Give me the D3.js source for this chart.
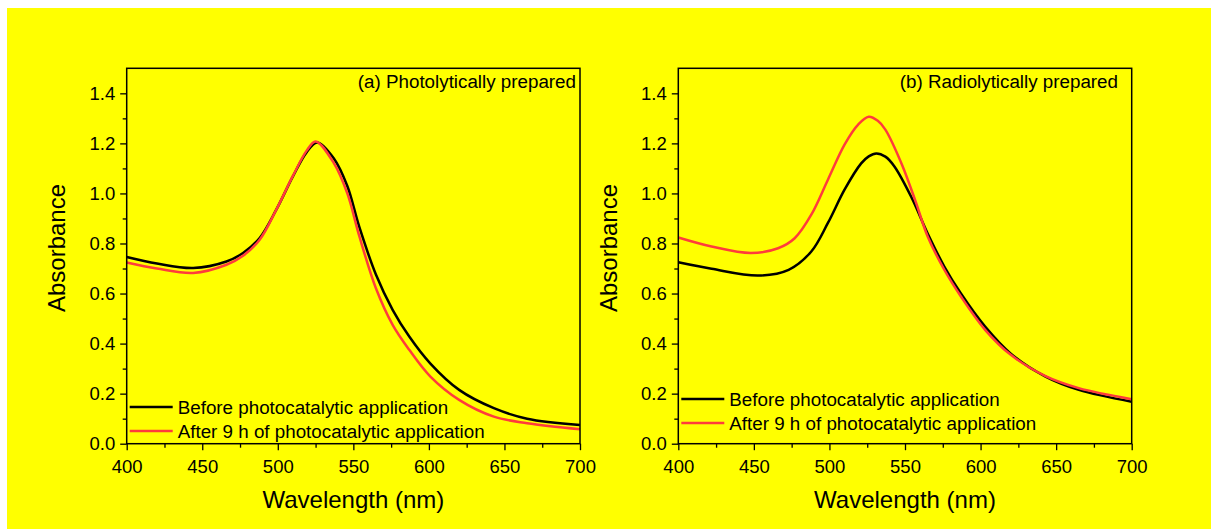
<!DOCTYPE html>
<html>
<head>
<meta charset="utf-8">
<script src="https://cdn.jsdelivr.net/npm/d3@7"></script>
<style>
  body { margin: 0; background: #ffffff; }
  svg { display: block; }
</style>
</head>
<body>
<div id="chart"></div>
<script>
// ---- data ----
let wl_a_before = [400, 420, 444, 466, 477, 488, 499, 510, 519, 526, 537, 546, 554, 565, 576, 587, 601, 620, 643, 665, 700];
let abs_a_before = [0.746, 0.72, 0.702, 0.728, 0.762, 0.822, 0.935, 1.068, 1.164, 1.204, 1.141, 1.03, 0.865, 0.675, 0.535, 0.428, 0.32, 0.215, 0.142, 0.10, 0.075];
let wl_a_after = [400, 420, 444, 466, 477, 488, 499, 510, 519, 525, 537, 546, 554, 565, 576, 587, 601, 620, 643, 665, 700];
let abs_a_after = [0.724, 0.70, 0.682, 0.715, 0.751, 0.815, 0.935, 1.07, 1.17, 1.208, 1.122, 1.0, 0.828, 0.62, 0.475, 0.375, 0.268, 0.175, 0.108, 0.082, 0.058];

let wl_b_before = [400, 422, 453, 473, 488, 499, 510, 521, 526, 531, 537, 543, 554, 565, 576, 587, 603, 620, 643, 665, 700];
let abs_b_before = [0.725, 0.699, 0.672, 0.695, 0.768, 0.882, 1.015, 1.12, 1.148, 1.16, 1.147, 1.108, 0.988, 0.84, 0.708, 0.60, 0.468, 0.36, 0.268, 0.215, 0.168];
let wl_b_after = [400, 422, 448, 466, 477, 488, 499, 510, 519, 526, 532, 537, 548, 557, 565, 576, 587, 603, 620, 643, 665, 700];
let abs_b_after = [0.824, 0.788, 0.762, 0.781, 0.821, 0.915, 1.055, 1.195, 1.275, 1.306, 1.29, 1.255, 1.115, 0.968, 0.828, 0.695, 0.588, 0.455, 0.355, 0.27, 0.222, 0.178];

let panel_titles = ["(a) Photolytically prepared", "(b) Radiolytically prepared"];
let legend_labels = ["Before photocatalytic application", "After 9 h of photocatalytic application"];
let x_ticks = [400, 450, 500, 550, 600, 650, 700];
let y_ticks = [0.0, 0.2, 0.4, 0.6, 0.8, 1.0, 1.2, 1.4];

// ---- layout ----
let width = 1211;
let height = 529;
let font = "'Liberation Sans', Arial, sans-serif";
let red = "#ff3c3c";

let svg = d3.select("#chart").append("svg")
  .attr("width", width)
  .attr("height", height);

svg.append("rect")
  .attr("x", 7).attr("y", 8)
  .attr("width", width - 7).attr("height", height - 8)
  .attr("fill", "#ffff00");

let panels = [
  { left: 126.7, right: 580, title_x: 576, leg_y: 407,
    series: [[wl_a_before, abs_a_before, "#000000"], [wl_a_after, abs_a_after, red]] },
  { left: 678.3, right: 1131.7, title_x: 1118, leg_y: 399,
    series: [[wl_b_before, abs_b_before, "#000000"], [wl_b_after, abs_b_after, red]] }
];
let plot_top = 68.3, plot_bottom = 443.7;

panels.forEach(function(p, i) {
  let x = d3.scaleLinear().domain([400, 700]).range([p.left, p.right]);
  let y = d3.scaleLinear().domain([0, 1.5]).range([plot_bottom, plot_top]);

  let g = svg.append("g");

  // minor ticks
  let xMinor = d3.range(425, 700, 50);
  let yMinor = d3.range(0.1, 1.5, 0.2);
  g.append("g")
    .attr("transform", "translate(0," + plot_bottom + ")")
    .call(d3.axisBottom(x).tickValues(xMinor).tickSize(4).tickFormat(""))
    .call(a => a.select(".domain").remove())
    .selectAll("line").attr("stroke-width", 1.3);
  g.append("g")
    .attr("transform", "translate(" + p.left + ",0)")
    .call(d3.axisLeft(y).tickValues(yMinor).tickSize(4).tickFormat(""))
    .call(a => a.select(".domain").remove())
    .selectAll("line").attr("stroke-width", 1.3);

  // major axes
  let xa = g.append("g")
    .attr("transform", "translate(0," + plot_bottom + ")")
    .call(d3.axisBottom(x).tickValues(x_ticks).tickSize(6.5).tickPadding(9.5).tickSizeOuter(0));
  let ya = g.append("g")
    .attr("transform", "translate(" + p.left + ",0)")
    .call(d3.axisLeft(y).tickValues(y_ticks).tickSize(6.5).tickPadding(5).tickFormat(d3.format(".1f")).tickSizeOuter(0));
  [xa, ya].forEach(function(a) {
    a.select(".domain").remove();
    a.selectAll("line").attr("stroke-width", 1.3);
    a.selectAll("text")
      .attr("font-family", font)
      .attr("font-size", "18.5px")
      .attr("fill", "#000");
  });

  // curves
  let line = d3.line()
    .x(d => x(d[0]))
    .y(d => y(d[1]))
    .curve(d3.curveCatmullRom.alpha(0.5));
  p.series.forEach(function(s) {
    let pts = s[0].map((w, k) => [w, s[1][k]]);
    g.append("path")
      .attr("d", line(pts))
      .attr("fill", "none")
      .attr("stroke", s[2])
      .attr("stroke-width", 2.5);
  });

  // frame
  g.append("rect")
    .attr("x", p.left).attr("y", plot_top)
    .attr("width", p.right - p.left).attr("height", plot_bottom - plot_top)
    .attr("fill", "none")
    .attr("stroke", "#000")
    .attr("stroke-width", 1.5);

  // panel title
  g.append("text")
    .attr("x", p.title_x).attr("y", 88)
    .attr("text-anchor", "end")
    .attr("font-family", font)
    .attr("font-size", "18.8px")
    .text(panel_titles[i]);

  // legend
  legend_labels.forEach(function(lab, k) {
    let ly = p.leg_y + k * 24;
    g.append("line")
      .attr("x1", p.left + 3).attr("x2", p.left + 46)
      .attr("y1", ly).attr("y2", ly)
      .attr("stroke", p.series[k][2])
      .attr("stroke-width", 2.5);
    g.append("text")
      .attr("x", p.left + 51).attr("y", ly + 6.5)
      .attr("font-family", font)
      .attr("font-size", "18.8px")
      .text(lab);
  });

  // axis titles
  g.append("text")
    .attr("x", (p.left + p.right) / 2).attr("y", 508)
    .attr("text-anchor", "middle")
    .attr("font-family", font)
    .attr("font-size", "24px")
    .text("Wavelength (nm)");
  g.append("text")
    .attr("transform", "translate(" + (p.left - 61.7) + ",248) rotate(-90)")
    .attr("text-anchor", "middle")
    .attr("font-family", font)
    .attr("font-size", "24px")
    .text("Absorbance");
});
</script>
</body>
</html>
